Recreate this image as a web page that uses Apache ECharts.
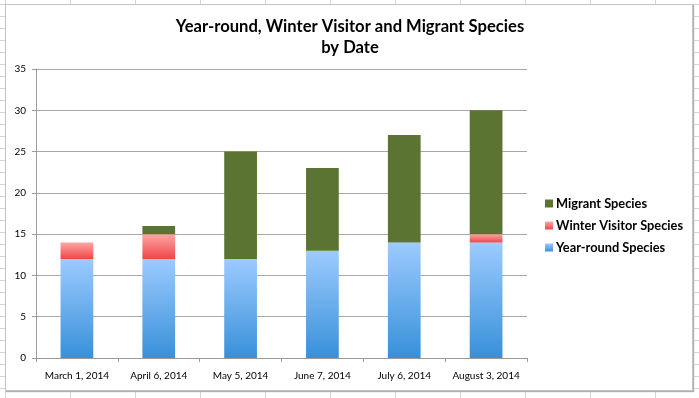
<!DOCTYPE html>
<html>
<head>
<meta charset="utf-8">
<script src="https://cdn.jsdelivr.net/npm/echarts@6/dist/echarts.min.js"></script>
<style>
  html, body {
    margin: 0;
    padding: 0;
    width: 699px;
    height: 398px;
    overflow: hidden;
    background-color: #fff;
    /* spreadsheet cells behind the chart */
    background-image:
      linear-gradient(to right, #d4d4d4 1px, transparent 1px),
      linear-gradient(to bottom, #d4d4d4 1px, transparent 1px);
    background-size: 65px 12px, 65px 12px;
    background-position: 5px 0, 0 4px;
  }
  #frame {
    position: absolute;
    left: 5px;
    top: 4px;
    width: 686px;
    height: 385px;
    background: #fff;
    border: 1px solid #c4c4c4;
    box-shadow: 1px 1px 1px #b0b0b0;
  }
  #chart {
    position: absolute;
    left: 0;
    top: 0;
    width: 699px;
    height: 398px;
  }
</style>
</head>
<body>
<div id="frame"></div>
<div id="chart"></div>
<script>
const dates = ["March 1, 2014", "April 6, 2014", "May 5, 2014", "June 7, 2014", "July 6, 2014", "August 3, 2014"];
const yearRound = [12, 12, 12, 13, 14, 14];
const winterVisitor = [2, 3, 0, 0, 0, 1];
const migrant = [0, 1, 13, 10, 13, 15];

const font = "Lato, 'Liberation Sans', sans-serif";

function grad(top, bottom) {
  return new echarts.graphic.LinearGradient(0, 0, 0, 1, [
    { offset: 0, color: top },
    { offset: 1, color: bottom },
  ]);
}

let myChart = echarts.init(document.getElementById("chart"));
myChart.setOption({
  backgroundColor: "transparent",
  animation: false,
  textStyle: { fontFamily: font },
  title: {
    text: "Year-round, Winter Visitor and Migrant Species\nby Date",
    left: 345,
    top: 11,
    textAlign: "center",
    textStyle: {
      fontFamily: font,
      fontSize: 16.6,
      fontWeight: "bold",
      color: "#000",
      lineHeight: 21,
    },
  },
  legend: {
    orient: "vertical",
    left: 540,
    top: 192,
    itemWidth: 8,
    itemHeight: 8,
    itemGap: 9,
    icon: "rect",
    data: ["Migrant Species", "Winter Visitor Species", "Year-round Species"],
    textStyle: {
      fontFamily: font,
      fontSize: 12.8,
      fontWeight: "bold",
      color: "#000",
      padding: [0, 0, 0, -2],
    },
  },
  grid: {
    left: 36,
    right: 172,
    top: 69,
    bottom: 40,
  },
  xAxis: {
    type: "category",
    data: dates,
    axisLine: { lineStyle: { color: "#9a9a9a" } },
    axisTick: { show: true, length: 4, lineStyle: { color: "#9a9a9a" } },
    axisLabel: { color: "#000", fontSize: 10, margin: 13, interval: 0 },
  },
  yAxis: {
    type: "value",
    min: 0,
    max: 35,
    interval: 5,
    axisLine: { show: true, lineStyle: { color: "#9a9a9a" } },
    axisTick: { show: true, length: 4, lineStyle: { color: "#9a9a9a" } },
    axisLabel: { color: "#000", fontSize: 10, margin: 10 },
    splitLine: { lineStyle: { color: "#a8a8a8" } },
  },
  series: [
    {
      name: "Year-round Species",
      type: "bar",
      stack: "species",
      barWidth: "40%",
      data: yearRound,
      itemStyle: { color: grad("#9ccbff", "#3890d9") },
    },
    {
      name: "Winter Visitor Species",
      type: "bar",
      stack: "species",
      data: winterVisitor,
      itemStyle: { color: grad("#ffa6a6", "#f04646") },
    },
    {
      name: "Migrant Species",
      type: "bar",
      stack: "species",
      data: migrant,
      itemStyle: { color: "#5c7431" },
    },
  ],
});
</script>
</body>
</html>
